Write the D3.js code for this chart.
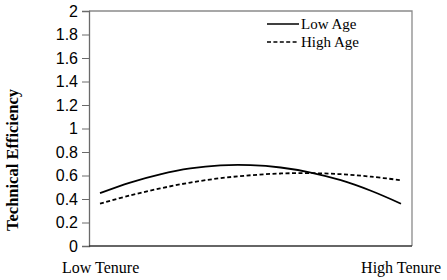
<!DOCTYPE html>
<html>
<head>
<meta charset="utf-8">
<script src="https://cdn.jsdelivr.net/npm/d3@7"></script>
<style>
body { margin: 0; background: #fff; }
</style>
</head>
<body>
<div id="chart"></div>
<script>
// DATA
const tenure = [0, 0.1, 0.2, 0.3, 0.4, 0.5, 0.6, 0.7, 0.8, 0.9, 1]
const lowAge = [0.45, 0.54, 0.61, 0.66, 0.686, 0.688, 0.668, 0.625, 0.56, 0.47, 0.36]
const highAge = [0.36, 0.43, 0.49, 0.54, 0.577, 0.602, 0.617, 0.62, 0.611, 0.59, 0.56]
const yTicks = [0, 0.2, 0.4, 0.6, 0.8, 1, 1.2, 1.4, 1.6, 1.8, 2]
const xLabels = ["Low Tenure", "High Tenure"]
const seriesNames = ["Low Age", "High Age"]

const width = 447, height = 280
const mLeft = 89, mRight = 412, mTop = 11, mBottom = 246
const serif = "'Liberation Serif', 'Times New Roman', serif"

const svg = d3.select("#chart").append("svg")
    .attr("width", width)
    .attr("height", height)

// SCALES
const xScale = d3.scaleLinear().domain([0, 1]).range([100, 401])
const yScale = d3.scaleLinear().domain([0, 2]).range([mBottom, mTop])

// box (top + right)
svg.append("path")
    .attr("d", `M${mLeft},${mTop}H${mRight}V${mBottom}`)
    .attr("fill", "none")
    .attr("stroke", "#8a8a8a")
    .attr("stroke-width", 1.3)

// Y AXIS
const yAxis = svg.append("g")
    .attr("transform", `translate(${mLeft},0)`)
    .call(d3.axisLeft(yScale).tickValues(yTicks).tickSize(7).tickPadding(4)
        .tickFormat(d => d3.format("")(+d.toFixed(1))))
yAxis.select(".domain").attr("stroke", "#6a6a6a").attr("stroke-width", 1.3)
yAxis.selectAll(".tick line").attr("stroke", "#6a6a6a")
yAxis.selectAll("text")
    .attr("font-family", "Arial, 'Liberation Sans', sans-serif")
    .attr("font-size", 16)
    .attr("fill", "#000")

// X axis line
svg.append("line")
    .attr("x1", mLeft).attr("x2", mRight)
    .attr("y1", mBottom).attr("y2", mBottom)
    .attr("stroke", "#333")
    .attr("stroke-width", 1.6)

// x labels
svg.append("text").text(xLabels[0])
    .attr("x", 62).attr("y", 273)
    .attr("font-family", serif)
    .attr("font-size", 16)
svg.append("text").text(xLabels[1])
    .attr("x", 441).attr("y", 273)
    .attr("text-anchor", "end")
    .attr("font-family", serif)
    .attr("font-size", 16)

// y title
svg.append("text").text("Technical Efficiency")
    .attr("transform", "translate(18,160) rotate(-90)")
    .attr("text-anchor", "middle")
    .attr("font-family", serif)
    .attr("font-weight", "bold")
    .attr("font-size", 16.5)

// LINES
const line = d3.line()
    .x((d, i) => xScale(tenure[i]))
    .y(d => yScale(d))
    .curve(d3.curveCatmullRom)

svg.append("path").datum(lowAge)
    .attr("d", line)
    .attr("fill", "none")
    .attr("stroke", "#000")
    .attr("stroke-width", 1.8)

svg.append("path").datum(highAge)
    .attr("d", line)
    .attr("fill", "none")
    .attr("stroke", "#000")
    .attr("stroke-width", 1.8)
    .attr("stroke-dasharray", "4,2.5")

// LEGEND
const legend = svg.append("g")
seriesNames.forEach((name, i) => {
    const y = 24 + i * 18
    legend.append("line")
        .attr("x1", 267).attr("x2", 299)
        .attr("y1", y).attr("y2", y)
        .attr("stroke", "#000")
        .attr("stroke-width", 1.5)
        .attr("stroke-dasharray", i === 1 ? "4,2.4" : null)
    legend.append("text").text(name)
        .attr("x", 301).attr("y", y + 5)
        .attr("font-family", serif)
        .attr("font-size", 15)
})
</script>
</body>
</html>
